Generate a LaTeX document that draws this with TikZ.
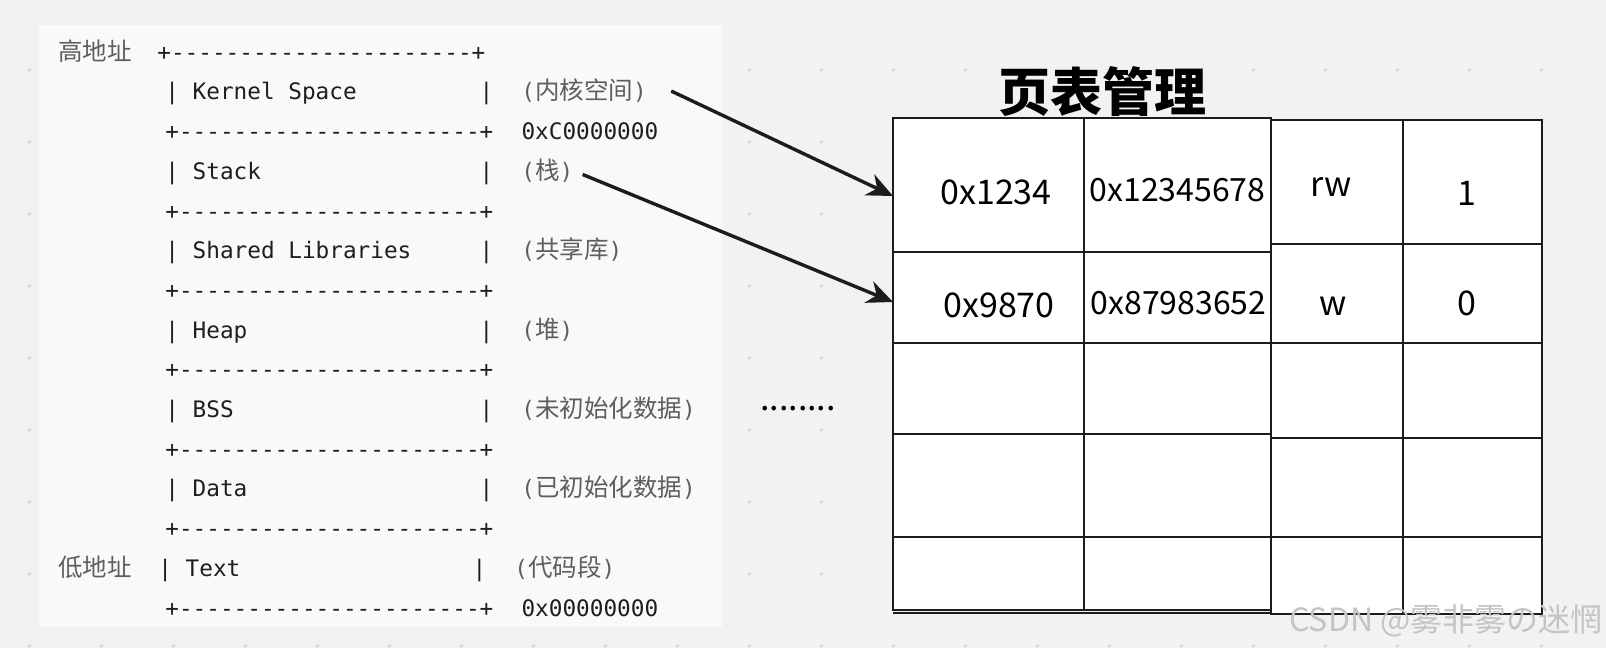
\documentclass[tikz,border=0pt]{standalone}
\usepackage{fontspec}
\setmonofont{DejaVu Sans Mono}
\newfontfamily\cjk{Noto Sans CJK SC}
\usepackage{xcolor}
\usepackage{tikz}
\usetikzlibrary{arrows.meta,positioning}
\definecolor{pgbg}{HTML}{F2F2F4}
\definecolor{pgpanel}{HTML}{F8F9FA}
\definecolor{pgdot}{HTML}{D2D2D6}
\definecolor{pgink}{HTML}{1E1E1E}
\definecolor{pgnote}{HTML}{5E5E5E}
\definecolor{pgline}{HTML}{1C1C1C}
\definecolor{pgmark}{HTML}{C4C4C4}

% one segment of the address-space sketch, 24 columns wide
\newcommand\seg[1]{\makebox[13.846em][l]{|\ #1}|}
\newcommand\segrule{+----------------------+}
\newcommand\zh[1]{{\cjk\fontsize{12.25}{14}\selectfont#1}}

\begin{document}
\begin{tikzpicture}[
  x=0.5pt,y=-0.5pt,
  row/.style={font=\ttfamily\fontsize{11.35}{13}\selectfont,text=pgink,
              inner sep=0pt,anchor=base west},
  note/.style={font=\ttfamily\fontsize{11.35}{13}\selectfont,text=pgnote,
               inner sep=0pt},
  side/.style={font=\cjk\fontsize{12.25}{14}\selectfont,text=pgnote,
               inner sep=0pt,anchor=base west},
  cell/.style={draw=pgline,line width=1.1pt,fill=white,anchor=north west,
               inner sep=0pt,outer sep=0pt},
  val/.style={font=\cjk\fontsize{17}{20}\selectfont,text=black,inner sep=0pt},
  longval/.style={val,font=\cjk\fontsize{16}{19}\selectfont},
  a/.style={-{Stealth[length=13pt,width=11.5pt]},draw=pgline,line width=1.7pt}
]
\useasboundingbox (0,0) rectangle (1606,648);
\fill[pgbg] (0,0) rectangle (1606,648);
\foreach \i in {0,...,21}
  \foreach \j in {0,...,9}
    {\fill[pgdot] (29.3+72*\i,-2+72*\j) circle[radius=0.9pt];}
\fill[pgpanel] (39,25) rectangle (722,627);

% address space
\node[side] (hi) at (58,60.2) {高地址};
\node[row] (r0) at (157,60.2) {\segrule};
\foreach \k/\nm/\lbl/\zl in {1/kern/Kernel Space/内核空间, 3/stk/Stack/栈,
    5/shlib/Shared Libraries/共享库, 7/heap/Heap/堆,
    9/bss/BSS/未初始化数据, 11/data/Data/已初始化数据}
  {\node[row] (\nm) at (165,60.2+39.7*\k) {\seg{\lbl}};
   \node[note,base right=13.66pt of \nm] (\nm-zh) {(\zh{\zl})};}
\foreach \k in {2,4,...,14}
  {\node[row] (r\k) at (165,60.2+39.7*\k) {\segrule};}
\node[note,text=pgink,base right=13.66pt of r2] (kaddr) {0xC0000000};
\node[side] (lo) at (58,60.2+39.7*13) {低地址};
\node[row] (text) at (158,60.2+39.7*13) {\seg{Text}};
\node[note,base right=13.66pt of text] (text-zh) {(\zh{代码段})};
\node[note,text=pgink,base right=13.66pt of r14] (laddr) {0x00000000};

\node[font=\cjk\fontsize{17}{20}\selectfont] (more) at (798,409) {........};

% page table
\node[font=\cjk\bfseries\fontsize{26}{30}\selectfont] (title) at (1102.6,91.5) {页表管理};
\foreach \r/\t/\h in {1/118/134, 2/252/91, 3/343/91, 4/434/103, 5/537/73}
  {\node[cell,minimum width=95.5pt,minimum height=\h*0.5pt] (vpn\r) at (893,\t) {};
   \node[cell,minimum width=93.5pt,minimum height=\h*0.5pt] (pfn\r) at (1084,\t) {};}
\foreach \r/\t/\h in {1/120/124, 2/244/99, 3/343/95, 4/438/99, 5/537/77}
  {\node[cell,minimum width=66pt,minimum height=\h*0.5pt] (perm\r) at (1271,\t) {};
   \node[cell,minimum width=69.5pt,minimum height=\h*0.5pt] (valid\r) at (1403,\t) {};}
\draw[draw=pgline,line width=0.9pt] ([yshift=-1.6pt]vpn5.south west) -- ([yshift=-1.6pt]pfn5.south east);

\node[val] (v1) at (996,192) {0x1234};
\node[longval] (p1) at (1177.5,190) {0x12345678};
\node[val] (m1) at (1331,187.5) {rw};
\node[val] (f1) at (1467,193.5) {1};
\node[val] (v2) at (999,305.5) {0x9870};
\node[longval] (p2) at (1178.5,303.5) {0x87983652};
\node[val] (m2) at (1333,306.5) {w};
\node[val] (f2) at (1466.6,303.5) {0};

\coordinate (k-out) at ([xshift=12pt]kern-zh.east);
\coordinate (s-out) at ([xshift=4.5pt,yshift=-2pt]stk-zh.east);
\draw[a] (k-out) -- ([yshift=-5.5pt]vpn1.west);
\draw[a] (s-out) -- ([yshift=-2.25pt]vpn2.west);

\node[font=\cjk\fontsize{16}{18}\selectfont,text=pgmark] (mark) at (1446,621) {CSDN @雾非雾の迷惘};
\end{tikzpicture}
\end{document}
